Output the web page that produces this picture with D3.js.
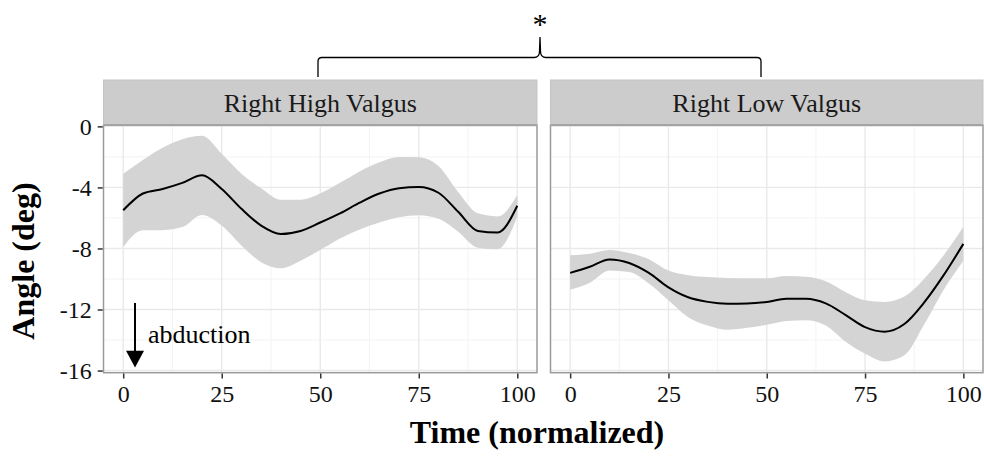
<!DOCTYPE html>
<html>
<head>
<meta charset="utf-8">
<script src="https://cdn.jsdelivr.net/npm/d3@7"></script>
<style>
  body { margin: 0; background: #fff; }
  svg text { font-family: "Liberation Serif", "Times New Roman", serif; }
</style>
</head>
<body>
<svg id="chart" width="984" height="456"></svg>
<script>
// normalized time samples
const timePts = [0, 5, 10, 15, 20, 25, 30, 35, 40, 45, 50, 55, 60, 65, 70, 75, 80, 85, 90, 95, 100];

// Right High Valgus
const highMean  = [-5.5, -4.4, -4.1, -3.7, -3.2, -4.1, -5.4, -6.5, -7.05, -6.85, -6.3, -5.7, -5.0, -4.4, -4.05, -3.97, -4.35, -5.6, -6.85, -6.95, -5.2];
const highUpper = [-3.1, -2.2, -1.4, -0.85, -0.62, -1.8, -3.1, -4.05, -4.8, -4.8, -4.4, -3.7, -2.95, -2.35, -2.0, -2.03, -2.6, -4.3, -5.7, -5.9, -4.5];
const highLower = [-7.9, -6.8, -6.8, -6.6, -5.8, -6.5, -7.8, -8.9, -9.3, -8.8, -8.1, -7.35, -6.75, -6.3, -5.95, -5.82, -6.05, -6.9, -7.95, -8.05, -5.9];

// Right Low Valgus
const lowMean  = [-9.6, -9.2, -8.72, -8.95, -9.6, -10.55, -11.2, -11.5, -11.62, -11.6, -11.5, -11.3, -11.3, -11.6, -12.35, -13.15, -13.45, -12.95, -11.55, -9.75, -7.7];
const lowUpper = [-8.45, -8.35, -8.1, -8.3, -8.7, -9.45, -9.75, -9.87, -9.93, -9.95, -9.95, -9.8, -9.85, -10.15, -10.85, -11.4, -11.5, -11.15, -10.0, -8.45, -6.6];
const lowLower = [-10.7, -10.25, -9.45, -9.55, -10.3, -11.4, -12.5, -13.05, -13.33, -13.2, -13.0, -12.75, -12.7, -13.05, -14.1, -14.9, -15.4, -15.0, -13.0, -10.7, -8.8];

const panelNames = ['Right High Valgus', 'Right Low Valgus'];
const xTicks = [0, 25, 50, 75, 100];
const xMinor = [12.5, 37.5, 62.5, 87.5];
const yTicks = [0, -4, -8, -12, -16];
const yMinor = [-2, -6, -10, -14];

const svg = d3.select('#chart');

const stripTop = 80, stripH = 45;
const panelTop = stripTop + stripH;
const panelBottom = 372.7;
const panelX = [[103.5, 537], [550.5, 983]];

const y = d3.scaleLinear().domain([-16.14, 0.09]).range([panelBottom, panelTop]);

const panels = [
  { name: panelNames[0], mean: highMean, upper: highUpper, lower: highLower },
  { name: panelNames[1], mean: lowMean, upper: lowUpper, lower: lowLower }
];

panels.forEach((p, i) => {
  const [x0, x1] = panelX[i];
  const x = d3.scaleLinear().domain([-5, 105]).range([x0, x1]);
  const g = svg.append('g');

  // grid
  g.selectAll('.xminor').data(xMinor).enter().append('line')
    .attr('x1', d => x(d)).attr('x2', d => x(d))
    .attr('y1', panelTop).attr('y2', panelBottom)
    .attr('stroke', '#f3f3f3').attr('stroke-width', 1);
  g.selectAll('.yminor').data(yMinor).enter().append('line')
    .attr('x1', x0).attr('x2', x1)
    .attr('y1', d => y(d)).attr('y2', d => y(d))
    .attr('stroke', '#f3f3f3').attr('stroke-width', 1);
  g.selectAll('.xmajor').data(xTicks).enter().append('line')
    .attr('x1', d => x(d)).attr('x2', d => x(d))
    .attr('y1', panelTop).attr('y2', panelBottom)
    .attr('stroke', '#e9e9e9').attr('stroke-width', 1.4);
  g.selectAll('.ymajor').data(yTicks).enter().append('line')
    .attr('x1', x0).attr('x2', x1)
    .attr('y1', d => y(d)).attr('y2', d => y(d))
    .attr('stroke', '#e9e9e9').attr('stroke-width', 1.4);

  // ribbon
  const area = d3.area()
    .x((d, k) => x(timePts[k]))
    .y0((d, k) => y(p.lower[k]))
    .y1((d, k) => y(p.upper[k]))
    .curve(d3.curveMonotoneX);
  g.append('path')
    .attr('d', area(timePts))
    .attr('fill', '#d4d4d4');

  const line = d3.line()
    .x((d, k) => x(timePts[k]))
    .y(d => y(d))
    .curve(d3.curveMonotoneX);
  g.append('path')
    .attr('d', line(p.mean))
    .attr('fill', 'none')
    .attr('stroke', '#000')
    .attr('stroke-width', 2);

  // panel border
  g.append('rect')
    .attr('x', x0).attr('y', panelTop)
    .attr('width', x1 - x0).attr('height', panelBottom - panelTop)
    .attr('fill', 'none').attr('stroke', '#9a9a9a').attr('stroke-width', 1.5);

  // strip
  g.append('rect')
    .attr('x', x0).attr('y', stripTop)
    .attr('width', x1 - x0).attr('height', stripH)
    .attr('fill', '#cccccc').attr('stroke', '#c4c4c4').attr('stroke-width', 1);
  g.append('line')
    .attr('x1', x0).attr('x2', x1).attr('y1', panelTop).attr('y2', panelTop)
    .attr('stroke', '#9a9a9a').attr('stroke-width', 1.5);
  g.append('text')
    .attr('x', (x0 + x1) / 2).attr('y', 111.5)
    .attr('text-anchor', 'middle')
    .attr('font-size', 26)
    .attr('fill', '#1a1a1a')
    .text(p.name);

  // x axis
  const xAxis = d3.axisBottom(x).tickValues(xTicks).tickSize(5).tickPadding(6);
  const ax = g.append('g')
    .attr('transform', `translate(0,${panelBottom + 0.8})`)
    .call(xAxis);
  ax.select('.domain').remove();
  ax.selectAll('line').attr('stroke', '#333').attr('stroke-width', 1.5);
  ax.selectAll('text').attr('font-size', 24).attr('fill', '#111')
    .attr('font-family', '"Liberation Serif", serif');

  if (i === 0) {
    const yAxis = d3.axisLeft(y).tickValues(yTicks).tickSize(5).tickPadding(6)
      .tickFormat(d => String(d));
    const ay = g.append('g')
      .attr('transform', `translate(${x0 - 0.8},0)`)
      .call(yAxis);
    ay.select('.domain').remove();
    ay.selectAll('line').attr('stroke', '#333').attr('stroke-width', 1.5);
    ay.selectAll('text').attr('font-size', 24).attr('fill', '#111')
      .attr('font-family', '"Liberation Serif", serif');

    // abduction annotation
    g.append('line')
      .attr('x1', x(3)).attr('x2', x(3))
      .attr('y1', y(-11.57)).attr('y2', y(-15.1))
      .attr('stroke', '#000').attr('stroke-width', 2);
    g.append('path')
      .attr('d', `M${x(3) - 9},${y(-14.7)} L${x(3) + 9},${y(-14.7)} L${x(3)},${y(-15.8)} Z`)
      .attr('fill', '#000');
    g.append('text')
      .attr('x', x(6.3)).attr('y', y(-14.2))
      .attr('font-size', 26)
      .attr('fill', '#000')
      .text('abduction');
  }
});

// axis titles
svg.append('text')
  .attr('x', 537).attr('y', 443)
  .attr('text-anchor', 'middle')
  .attr('font-size', 32).attr('font-weight', 'bold')
  .text('Time (normalized)');
svg.append('text')
  .attr('transform', 'translate(34,261) rotate(-90)')
  .attr('text-anchor', 'middle')
  .attr('font-size', 32).attr('font-weight', 'bold')
  .text('Angle (deg)');

// significance brace
const bL = 318, bR = 761, bM = 540, bY = 57.5, bBot = 77, bTip = 37;
const brace = d3.path();
brace.moveTo(bL, bBot);
brace.lineTo(bL, bY + 4);
brace.quadraticCurveTo(bL, bY, bL + 4, bY);
brace.lineTo(bM - 6, bY);
brace.quadraticCurveTo(bM - 0.5, bY, bM - 0.5, bY - 6);
brace.lineTo(bM, bTip);
brace.lineTo(bM + 0.5, bY - 6);
brace.quadraticCurveTo(bM + 0.5, bY, bM + 6, bY);
brace.lineTo(bR - 4, bY);
brace.quadraticCurveTo(bR, bY, bR, bY + 4);
brace.lineTo(bR, bBot);
svg.append('path')
  .attr('d', brace.toString())
  .attr('fill', 'none').attr('stroke', '#000').attr('stroke-width', 1.3);
svg.append('text')
  .attr('x', bM).attr('y', 33.5)
  .attr('text-anchor', 'middle')
  .attr('font-size', 30)
  .text('*');
</script>
</body>
</html>
